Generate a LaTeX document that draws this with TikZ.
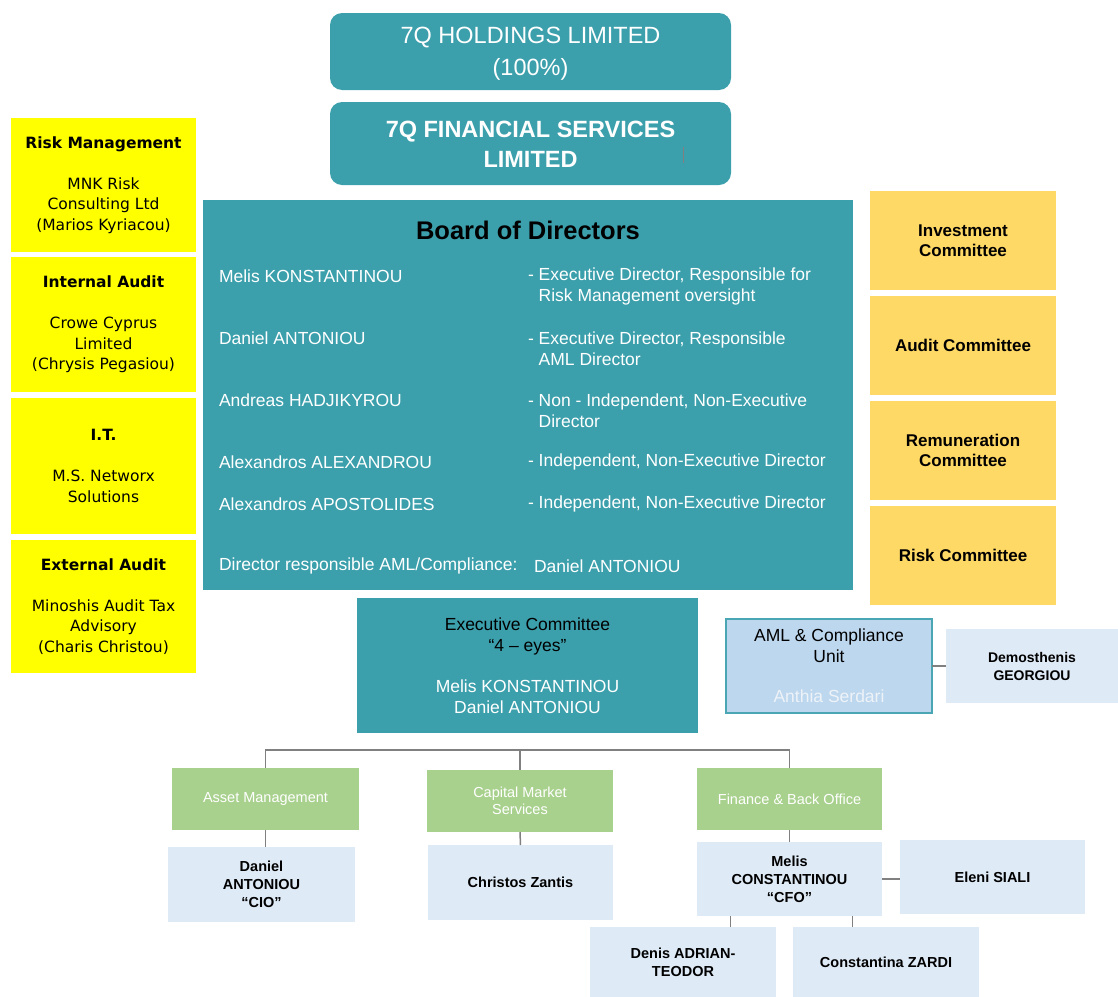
\documentclass[tikz,border=0pt]{standalone}
\usepackage{fontspec}
\setmainfont{Liberation Sans}
\newfontfamily\widefont{DejaVu Sans}
\definecolor{tealbox}{HTML}{3CA0AC}
\definecolor{yelbox}{HTML}{FFFF00}
\definecolor{combox}{HTML}{FFD966}
\definecolor{greenbox}{HTML}{A9D18E}
\definecolor{paleblue}{HTML}{DEEAF6}
\definecolor{amlblue}{HTML}{BDD7EE}
\definecolor{amledge}{HTML}{4AA6B2}
\definecolor{linegrey}{HTML}{808080}
\definecolor{softwhite}{HTML}{EEF3F8}
\begin{document}
\begin{tikzpicture}[x=1pt,y=-1pt,
  box/.style={inner sep=0pt, outer sep=0pt, align=center, text=black},
  tealnode/.style={box, fill=tealbox},
  topnode/.style={tealnode, rounded corners=12pt, minimum width=401pt, text=white},
  toptext/.style={inner sep=0pt, outer sep=0pt, align=center, text=white},
  yelnode/.style={box, fill=yelbox, minimum width=185pt, font=\widefont\fontsize{15.5}{20.5}\selectfont},
  comnode/.style={box, fill=combox, minimum width=186pt, minimum height=99pt, font=\fontsize{17}{20.5}\selectfont\bfseries},
  greennode/.style={box, fill=greenbox, minimum height=62pt, text=white, font=\fontsize{14.5}{17}\selectfont},
  personnode/.style={box, fill=paleblue, font=\fontsize{14.5}{18}\selectfont\bfseries},
  boardtext/.style={inner sep=0pt, outer sep=0pt, anchor=west, align=left, text=white, font=\fontsize{17.5}{21}\selectfont},
  link/.style={draw=linegrey, line width=1.5pt}
]
\useasboundingbox (0,0) rectangle (1118,996);

% top boxes
\node[topnode, minimum height=77pt] (hold) at (530.5,51.5) {};
\node[toptext, font=\fontsize{23.5}{32}\selectfont] (holdtext) at (530.5,54) {7Q HOLDINGS LIMITED\\(100\%)};
\node[topnode, minimum height=83pt] (fin) at (530.5,143.5) {};
\node[toptext, font=\fontsize{23.5}{30}\selectfont\bfseries] (fintext) at (530.5,144.5) {7Q FINANCIAL SERVICES\\LIMITED};
\coordinate (tick) at (683,147);
\draw[draw=linegrey, line width=1pt] (tick) -- ++(0,16);

% board
\node[tealnode, minimum width=650pt, minimum height=390pt] (board) at (528,395) {};
\node[inner sep=0pt, text=black, font=\fontsize{25.5}{28}\selectfont\bfseries] (boardtitle) at (528,230) {Board of Directors};
\node[boardtext] (n1) at (219,276) {Melis KONSTANTINOU};
\node[boardtext] (n2) at (219,338) {Daniel ANTONIOU};
\node[boardtext] (n3) at (219,400) {Andreas HADJIKYROU};
\node[boardtext] (n4) at (219,462) {Alexandros ALEXANDROU};
\node[boardtext] (n5) at (219,504) {Alexandros APOSTOLIDES};
\node[boardtext] (d1) at (528,286.5) {- Executive Director, Responsible for\\\phantom{- }Risk Management oversight};
\node[boardtext] (d2) at (528,348.5) {- Executive Director, Responsible\\\phantom{- }AML Director};
\node[boardtext] (d3) at (528,410.5) {- Non - Independent, Non-Executive\\\phantom{- }Director};
\node[boardtext] (d4) at (528,462) {- Independent, Non-Executive Director};
\node[boardtext] (d5) at (528,504) {- Independent, Non-Executive Director};
\node[boardtext] (amlrole) at (219,566) {Director responsible AML/Compliance:};
\node[boardtext] (amlname) at (534,566) {Daniel ANTONIOU};

% left column
\node[yelnode, minimum height=134pt] (risk) at (103.5,185) {\textbf{Risk Management}\\[20.5pt]MNK Risk\\Consulting Ltd\\(Marios Kyriacou)};
\node[yelnode, minimum height=135pt] (ia) at (103.5,324.5) {\textbf{Internal Audit}\\[20.5pt]Crowe Cyprus\\Limited\\(Chrysis Pegasiou)};
\node[yelnode, minimum height=136pt] (it) at (103.5,466) {\textbf{I.T.}\\[20.5pt]M.S. Networx\\Solutions};
\node[yelnode, minimum height=133pt] (ea) at (103.5,606.5) {\textbf{External Audit}\\[20.5pt]Minoshis Audit Tax\\Advisory\\(Charis Christou)};

% right column
\node[comnode] (inv) at (963,240.5) {Investment\\Committee};
\node[comnode] (aud) at (963,345.5) {Audit Committee};
\node[comnode] (rem) at (963,450.5) {Remuneration\\Committee};
\node[comnode] (rc) at (963,555.5) {Risk Committee};

% executive committee
\node[tealnode, minimum width=341pt, minimum height=135pt, font=\fontsize{17.5}{21}\selectfont] (exec) at (527.5,665.5)
  {Executive Committee\\“4 – eyes”\\[20pt]{\color{white}Melis KONSTANTINOU}\\{\color{white}Daniel ANTONIOU}};

% AML unit
\node[box, fill=amlblue, draw=amledge, line width=1.5pt, minimum width=206pt, minimum height=94pt, font=\fontsize{17.5}{21}\selectfont] (aml) at (829,666)
  {AML \& Compliance\\Unit\\[19pt]{\color{softwhite}Anthia Serdari}};
\node[box, fill=paleblue, minimum width=172pt, minimum height=74pt, font=\fontsize{14}{18}\selectfont\bfseries] (demo) at (1032,666) {Demosthenis\\GEORGIOU};
\draw[link] (aml.east) -- (demo.west);

% departments
\node[greennode, minimum width=187pt] (asset) at (265.5,799) {Asset Management};
\node[greennode, minimum width=186pt] (capital) at (520,801) {Capital Market\\Services};
\node[greennode, minimum width=185pt] (finance) at (789.5,799) {Finance \& Back Office};
\coordinate (bus) at (0,750);
\draw[link] (asset.north) -- (asset.north |- bus) -- (finance.north |- bus) -- (finance.north);
\draw[link] (capital.north) -- (capital.north |- bus);

% people
\node[personnode, minimum width=187pt, minimum height=75pt] (cio) at (261.5,884.5) {Daniel\\ANTONIOU\\“CIO”};
\node[personnode, minimum width=185pt, minimum height=75pt] (zantis) at (520.5,882.5) {Christos Zantis};
\node[personnode, minimum width=185pt, minimum height=74pt] (cfo) at (789.5,879) {Melis\\CONSTANTINOU\\“CFO”};
\node[personnode, minimum width=185pt, minimum height=74pt] (siali) at (992.5,877) {Eleni SIALI};
\node[personnode, minimum width=186pt, minimum height=70pt] (denis) at (683,962) {Denis ADRIAN-\\TEODOR};
\node[personnode, minimum width=186pt, minimum height=70pt] (zardi) at (886,962) {Constantina ZARDI};

\draw[link] (asset.south) -- (asset.south |- cio.north);
\draw[link] (capital.south) -- (zantis.north);
\draw[link] (finance.south) -- (cfo.north);
\draw[link] (cfo.east) -- (siali.west |- cfo.east);
\draw[link] ([xshift=-59pt]cfo.south) -- ([xshift=-59pt]cfo.south |- denis.north);
\draw[link] ([xshift=63pt]cfo.south) -- ([xshift=63pt]cfo.south |- zardi.north);
\end{tikzpicture}
\end{document}
